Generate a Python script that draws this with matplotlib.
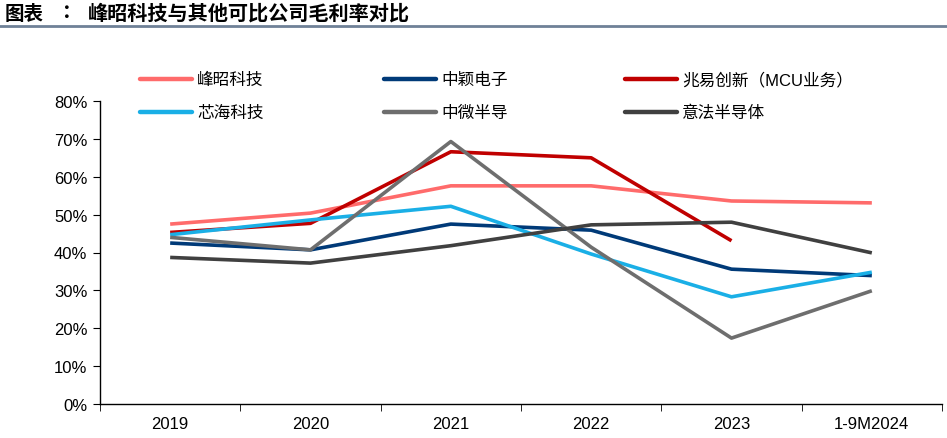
import numpy as np
import matplotlib
matplotlib.use("Agg")
from matplotlib import pyplot as plt
from matplotlib.lines import Line2D

plt.rcParams['font.family'] = ['Liberation Sans', 'Noto Sans CJK SC', 'DejaVu Sans']

years = ["2019", "2020", "2021", "2022", "2023", "1-9M2024"]

fortior = [47.5, 50.4, 57.6, 57.6, 53.6, 53.1]        # 峰昭科技
sinowealth = [42.5, 40.7, 47.5, 45.9, 35.6, 33.9]     # 中颖电子
gigadevice = [45.3, 47.7, 66.6, 65.0, 43.1, np.nan]   # 兆易创新
chipsea = [44.7, 48.6, 52.2, 39.6, 28.3, 34.8]        # 芯海科技
cmsemicon = [44.0, 40.7, 69.3, 41.4, 17.4, 29.9]      # 中微半导
st = [38.7, 37.2, 41.8, 47.3, 48.0, 39.9]             # 意法半导体

names = ["峰昭科技", "中颖电子", "兆易创新（MCU业务）", "芯海科技", "中微半导", "意法半导体"]
colors = ["#FF6B6B", "#003A78", "#C00000", "#1AAFE6", "#6E6E6E", "#404040"]
series = [fortior, sinowealth, gigadevice, chipsea, cmsemicon, st]

W, H = 947, 439
fig = plt.figure(figsize=(W/100, H/100), dpi=100)
ax = fig.add_axes([100/W, 1-405/H, 842/W, 303/H])

x = np.arange(len(years))
for vals, c in zip(series, colors):
    ax.plot(x, vals, color=c, lw=2.6, solid_capstyle='butt')

ax.set_xlim(-0.5, 5.5)
ax.set_ylim(0, 80)
ax.set_yticks(np.arange(0, 81, 10))
ax.set_yticklabels([f"{v}%" for v in range(0, 81, 10)], fontsize=12)
ax.set_xticks(x)
ax.set_xticklabels(years, fontsize=12)
ax.set_xticks(np.arange(-0.5, 6, 1), minor=True)
ax.tick_params(axis='x', which='major', length=0, pad=9)
ax.tick_params(axis='x', which='minor', length=5, direction='out', color='black')
ax.tick_params(axis='y', length=5, direction='out', color='black', pad=4)
for s in ['top', 'right']:
    ax.spines[s].set_visible(False)
for s in ['left', 'bottom']:
    ax.spines[s].set_color('black')
    ax.spines[s].set_linewidth(1.0)

# legend drawn by hand: 3 columns x 2 rows, row-wise order
col_x = [140, 384, 625]
row_y = [80, 113]
for i, (name, c) in enumerate(zip(names, colors)):
    cx = col_x[i % 3]
    ry = row_y[i // 3]
    fig.add_artist(Line2D([cx/W, (cx + 52)/W], [1-ry/H, 1-ry/H], color=c, lw=3.2,
                          solid_capstyle='round'))
    fig.text((cx + 57)/W, 1-ry/H, name, fontsize=12, va='center', ha='left')

# title and rule
fig.text(5/W, 1-14/H, "图表", fontsize=14, fontweight='bold', va='center', ha='left')
fig.text(62/W, 1-14/H, "：", fontsize=14, fontweight='bold', va='center', ha='left')
fig.text(88/W, 1-14/H, "峰昭科技与其他可比公司毛利率对比", fontsize=14.5,
         fontweight='bold', va='center', ha='left')
fig.add_artist(Line2D([0, 1], [1-27/H, 1-27/H], color='#6F8197', lw=2.0))

fig.savefig("out.png", dpi=100)
